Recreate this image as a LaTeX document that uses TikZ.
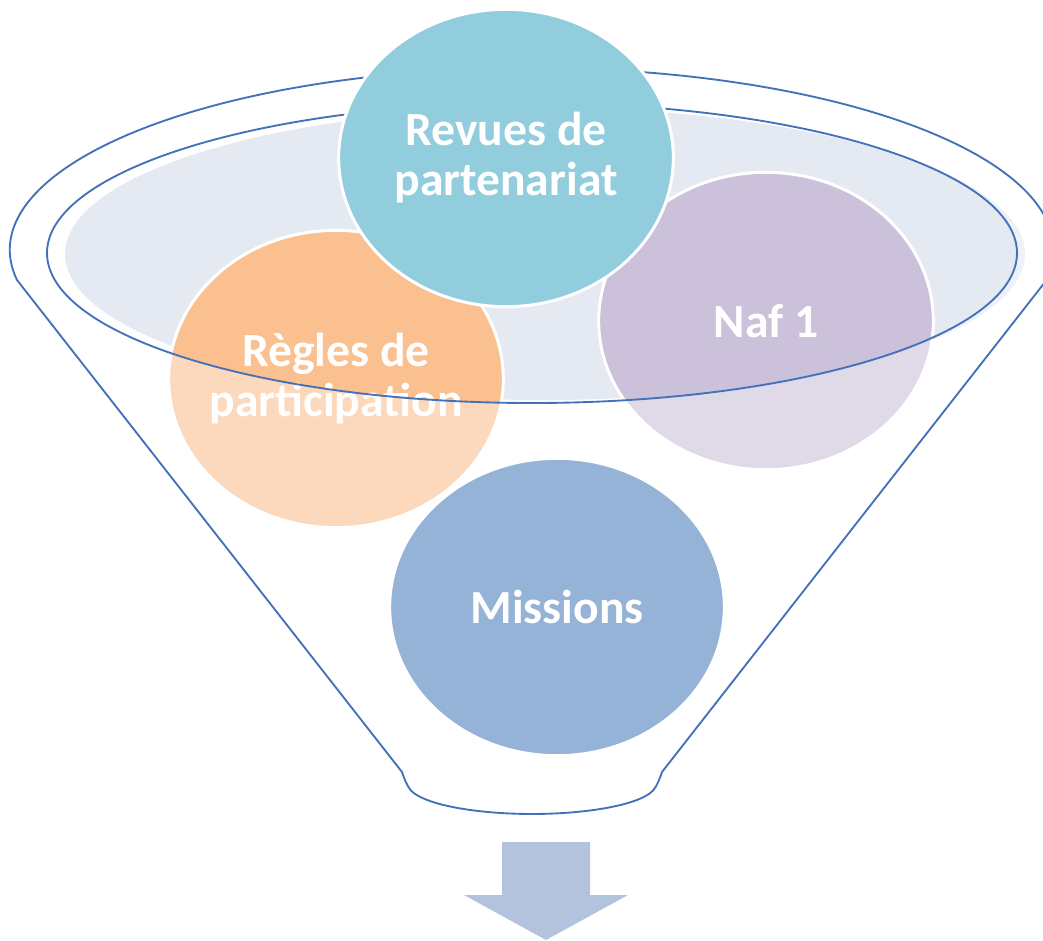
\documentclass[tikz,border=0pt]{standalone}
\usepackage{fontspec}
\newfontfamily\carlito{Carlito}
\usetikzlibrary{shapes.geometric}
\definecolor{revc}{RGB}{146,205,221}
\definecolor{regc}{RGB}{250,192,144}
\definecolor{nafc}{RGB}{204,193,218}
\definecolor{misc}{RGB}{149,179,215}
\definecolor{rimfill}{RGB}{228,233,242}
\definecolor{funline}{RGB}{68,114,186}
\definecolor{arrowc}{RGB}{179,195,221}
\def\funnelpath{(17,-280) arc[start angle=189.5, end angle=-9.5, x radius=522, y radius=182] -- (662,-772) .. controls (660,-778) and (657,-786) .. (653.3,-790.2) arc[start angle=-12, end angle=-168, x radius=124, y radius=30] .. controls (407,-786) and (404,-778) .. (402,-772) -- cycle}
\begin{document}
\begin{tikzpicture}[x=0.75pt,y=0.75pt,
  bubble/.style={ellipse, draw=white, line width=2.25pt, inner ysep=0pt, inner xsep=-18pt,
    minimum width=251pt, minimum height=223pt, text=white, align=center,
    font=\carlito\bfseries\fontsize{35.7}{37.5}\selectfont},
  funstroke/.style={draw=funline, line width=1.4pt}]
\useasboundingbox (0,0) rectangle (1043,-940);
\clip (0,0) rectangle (1043,-940);
% opening of the funnel
\fill[rimfill] (545,-254) ellipse [x radius=480, y radius=146];
% lower bubbles
\node[bubble, fill=regc] (regles) at (336,-379) {Règles de\\participation};
\node[bubble, fill=nafc] (naf) at (766,-321) {Naf 1};
% funnel body (translucent white) and outlines
\fill[white, fill opacity=0.4, even odd rule] \funnelpath (532,-253) ellipse [x radius=485, y radius=150];
\draw[funstroke] \funnelpath;
\draw[funstroke] (532,-253) ellipse [x radius=485, y radius=150];
% upper bubbles
\node[bubble, fill=revc] (revues) at (506,-158) {Revues de\\partenariat};
\node[bubble, fill=misc] (missions) at (557,-607) {Missions};
% arrow
\fill[arrowc] (502,-842) -- (590,-842) -- (590,-895) -- (628,-895) -- (546,-940) -- (464,-895) -- (502,-895) -- cycle;
\end{tikzpicture}
\end{document}
